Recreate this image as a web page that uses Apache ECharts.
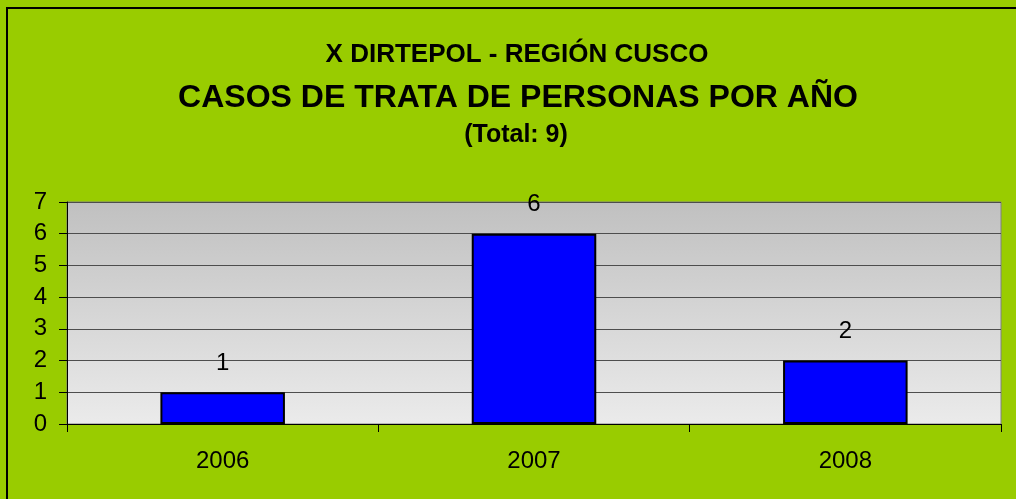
<script src="https://cdn.jsdelivr.net/npm/echarts@6/dist/echarts.min.js"></script>
<style>
  html, body { margin: 0; padding: 0; background: #99cc00; }
  #chart { width: 1016px; height: 499px; }
</style>
<div id="chart"></div>

<script>
  // data
  const years = ['2006', '2007', '2008']
  const cases = [1, 6, 2]
  const yTicks = [0, 1, 2, 3, 4, 5, 6, 7]

  const titleLines = [
    'X DIRTEPOL - REGIÓN CUSCO',
    'CASOS DE TRATA DE PERSONAS POR AÑO',
    '(Total: 9)'
  ]

  const font = 'Liberation Sans, Arial, sans-serif'
  const myChart = echarts.init(document.getElementById('chart'))

  const option = {
    backgroundColor: '#99cc00',
    animation: false,
    title: [
      {
        text: titleLines[0], left: 512, top: 37, textAlign: 'center',
        textStyle: { fontFamily: font, fontSize: 26, fontWeight: 'bold', color: '#000' }
      },
      {
        text: titleLines[1], left: 513, top: 77, textAlign: 'center',
        textStyle: { fontFamily: font, fontSize: 32, fontWeight: 'bold', color: '#000' }
      },
      {
        text: titleLines[2], left: 511, top: 118, textAlign: 'center',
        textStyle: { fontFamily: font, fontSize: 25, fontWeight: 'bold', color: '#000' }
      }
    ],
    graphic: [
      {
        type: 'rect',
        shape: { x: 7, y: 8, width: 1030, height: 520 },
        style: { fill: 'none', stroke: '#000', lineWidth: 2 },
        silent: true
      }
    ],
    grid: {
      left: 67,
      right: 15,
      top: 202,
      bottom: 75,
      show: true,
      borderColor: '#808080',
      borderWidth: 1,
      backgroundColor: new echarts.graphic.LinearGradient(0, 0, 0, 1, [
        { offset: 0, color: '#c0c0c0' },
        { offset: 1, color: '#ebebeb' }
      ])
    },
    xAxis: {
      type: 'category',
      data: years,
      axisLine: { lineStyle: { color: '#000', width: 1 } },
      axisTick: { show: true, alignWithLabel: false, length: 8, lineStyle: { color: '#000' } },
      axisLabel: { fontFamily: font, fontSize: 24, color: '#000', margin: 25 }
    },
    yAxis: {
      type: 'value',
      min: yTicks[0],
      max: yTicks[yTicks.length - 1],
      interval: 1,
      axisLine: { show: true, lineStyle: { color: '#000', width: 1 } },
      axisTick: { show: true, length: 8, lineStyle: { color: '#000' } },
      axisLabel: { fontFamily: font, fontSize: 24, color: '#000', margin: 20 },
      splitLine: { show: true, lineStyle: { color: '#4d4d4d', width: 1 } }
    },
    series: [
      {
        type: 'bar',
        data: cases,
        barWidth: '40%',
        itemStyle: { color: '#0000ff', borderColor: '#000', borderWidth: 2 },
        label: {
          show: true,
          position: 'top',
          distance: 17,
          fontFamily: font,
          fontSize: 24,
          color: '#000'
        }
      }
    ]
  }

  myChart.setOption(option)
</script>
